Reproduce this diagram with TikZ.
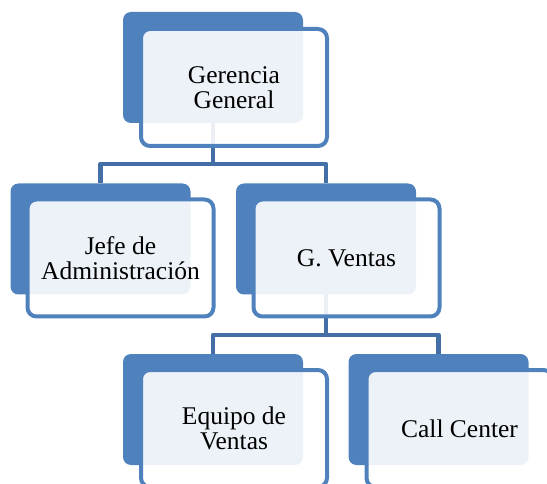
\documentclass[tikz,border=0pt]{standalone}
\usepackage{fontspec}
\setmainfont{Liberation Serif}
\definecolor{boxblue}{RGB}{79,129,189}
\definecolor{connblue}{RGB}{68,110,166}
\begin{document}
\begin{tikzpicture}[x=1pt,y=-1pt,
  backbox/.style={fill=boxblue, rounded corners=8pt, minimum width=180pt, minimum height=111pt, inner sep=0pt, outer sep=0pt, draw=none},
  framebox/.style={draw=boxblue, line width=4pt, fill=white, fill opacity=0.9, text opacity=1, rounded corners=9pt, minimum width=186pt, minimum height=117pt, inner sep=0pt, outer sep=0pt, align=center, font=\fontsize{25.5}{25}\selectfont},
  conn/.style={draw=connblue, line width=4.5pt, line join=round}]
\useasboundingbox (0,0) rectangle (547,484);
\clip (0,0) rectangle (547,484);
% back boxes
\node[backbox] (g1) at (213,67.5) {};
\node[backbox] (j1) at (100.5,239) {};
\node[backbox] (v1) at (326,239) {};
\node[backbox] (e1) at (213,409.5) {};
\node[backbox] (c1) at (438.5,409.5) {};
% connectors
\coordinate (bar1) at (213,164);
\coordinate (bar2) at (326,335);
\draw[conn] (g1.south) -- (bar1) -| (j1.north);
\draw[conn] (bar1) -| (v1.north);
\draw[conn] (v1.south) -- (bar2) -| (e1.north);
\draw[conn] (bar2) -| (c1.north);
% front frames
\node[framebox] (g2) at (234,87.5) {Gerencia\\General};
\node[framebox] (j2) at (120.5,258) {Jefe de\\Administración};
\node[framebox] (v2) at (346.5,258) {G. Ventas};
\node[framebox] (e2) at (234,428.5) {Equipo de\\Ventas};
\node[framebox] (c2) at (459.5,428.5) {Call Center};
\end{tikzpicture}
\end{document}
